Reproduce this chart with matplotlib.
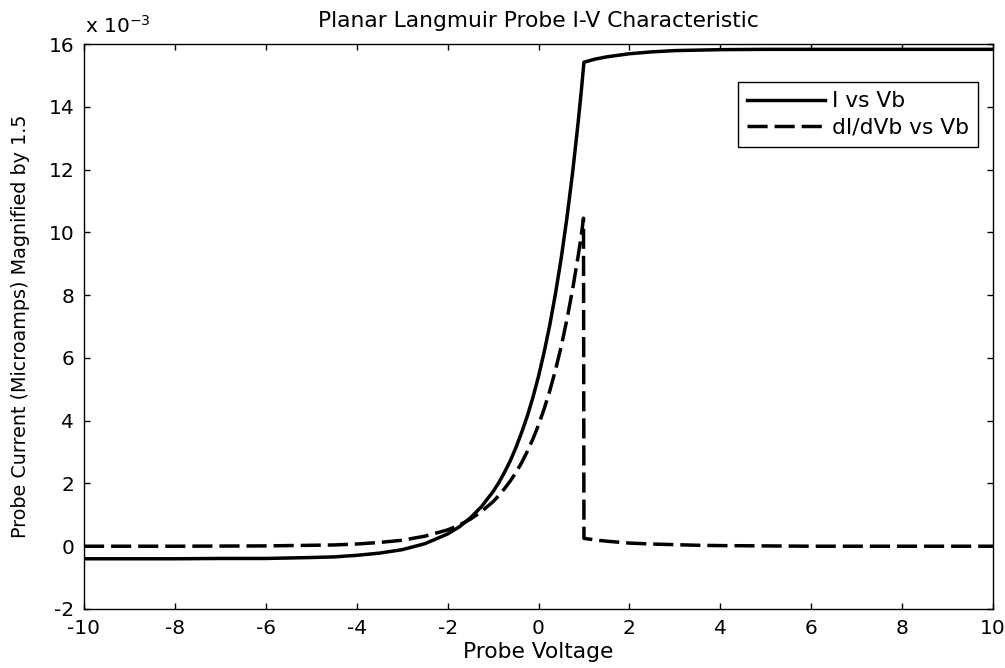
import matplotlib
matplotlib.use("Agg")
import matplotlib.pyplot as plt

# ---- data (currents in units of 1e-3) ----
v_iv = [-10, -9, -8, -7, -6, -5, -4.5, -4, -3.5, -3, -2.5, -2, -1.75, -1.5,
        -1.25, -1, -0.875, -0.75, -0.625, -0.5, -0.375, -0.25, -0.125, 0,
        0.125, 0.25, 0.375, 0.5, 0.625, 0.75, 0.875, 0.94, 1.0, 1.25, 1.5,
        2, 2.5, 3, 4, 5, 6, 8, 10]
i_iv = [-0.40, -0.40, -0.40, -0.39, -0.39, -0.36, -0.34, -0.29, -0.22, -0.11,
        0.08, 0.39, 0.61, 0.90, 1.27, 1.74, 2.02, 2.35, 2.71, 3.13, 3.61, 4.13,
        4.73, 5.41, 6.19, 7.06, 8.06, 9.18, 10.46, 11.90, 13.54, 14.48, 15.42,
        15.52, 15.59, 15.69, 15.75, 15.79, 15.82, 15.83, 15.83, 15.83, 15.83]

v_didv = [-10, -8, -6, -5, -4.5, -4, -3.5, -3, -2.5, -2, -1.75, -1.5, -1.25,
          -1, -0.875, -0.75, -0.625, -0.5, -0.375, -0.25, -0.125, 0, 0.125,
          0.25, 0.375, 0.5, 0.625, 0.75, 0.875, 0.94, 0.99, 1.0, 1.25, 1.5, 2,
          2.5, 3, 3.5, 4, 5, 6, 8, 10]
d_didv = [0.00, 0.00, 0.01, 0.03, 0.04, 0.07, 0.12, 0.19, 0.32, 0.52, 0.67,
          0.86, 1.11, 1.42, 1.61, 1.83, 2.07, 2.34, 2.65, 3.01, 3.41, 3.86,
          4.38, 4.96, 5.62, 6.37, 7.22, 8.18, 9.27, 9.89, 10.45,
          0.25, 0.20, 0.16, 0.10, 0.07, 0.05, 0.03, 0.02, 0.01, 0.00, 0.00, 0.00]

x_ticks = list(range(-10, 11, 2))
y_ticks = list(range(-2, 17, 2))

plt.rcParams['font.family'] = ['DejaVu Sans']
FS = 15.7
TFS = 14.5
YFS = 13.8

fig = plt.figure(figsize=(10.05, 6.68), dpi=100)
ax = fig.add_axes([84 / 1005, 59 / 668, 909 / 1005, 565 / 668])

lw = 2.5
ax.plot(v_iv, i_iv, color='black', lw=lw, label='I vs Vb')
ax.plot(v_didv, d_didv, color='black', lw=lw, dashes=(5.8, 2.0),
        label='dI/dVb vs Vb')

ax.set_xlim(-10, 10)
ax.set_ylim(-2, 16)
ax.set_xticks(x_ticks)
ax.set_yticks(y_ticks)
ax.set_xticklabels([str(t) for t in x_ticks])
ax.set_yticklabels([str(t) for t in y_ticks])

ax.tick_params(direction='in', top=True, right=True, length=4, width=1,
               labelsize=TFS, colors='black')
ax.tick_params(axis='x', pad=7)
ax.tick_params(axis='y', pad=7)
for sp in ax.spines.values():
    sp.set_linewidth(1.0)
    sp.set_color('black')

ax.set_title('Planar Langmuir Probe I-V Characteristic', fontsize=FS, pad=12)
ax.set_xlabel('Probe Voltage', fontsize=FS, labelpad=3)
ax.set_ylabel('Probe Current (Microamps) Magnified by 1.5', fontsize=YFS,
              labelpad=13)

fig.text(85 / 1005, (668 - 33) / 668, r'x 10$^{\mathregular{-3}}$',
         fontsize=TFS, ha='left', va='baseline')

leg = ax.legend(loc='upper right', bbox_to_anchor=(0.9835, 0.9327),
                borderaxespad=0, fontsize=FS, frameon=True, fancybox=False,
                framealpha=1, edgecolor='black', handlelength=3.6,
                handletextpad=0.3, labelspacing=0.3, borderpad=0.42)
leg.get_frame().set_linewidth(1.0)

fig.savefig('out.png', dpi=100)
